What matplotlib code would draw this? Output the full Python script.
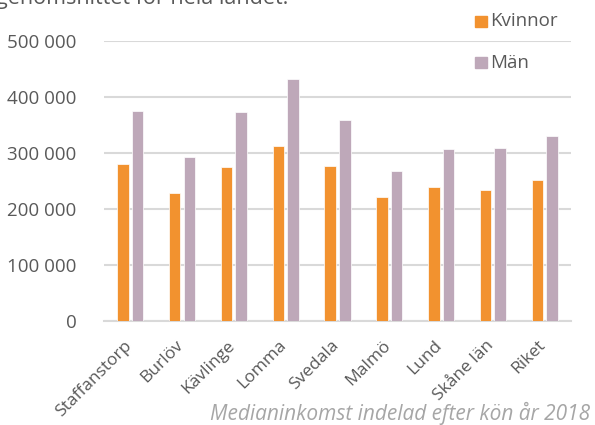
import matplotlib
matplotlib.use("Agg")
import matplotlib.pyplot as plt
import matplotlib.transforms as mtransforms
import numpy as np
from matplotlib.ticker import FuncFormatter

plt.rcParams['font.family'] = ['Open Sans', 'DejaVu Sans']

categories = ["Staffanstorp", "Burlöv", "Kävlinge", "Lomma", "Svedala",
              "Malmö", "Lund", "Skåne län", "Riket"]
kvinnor = [280000, 228000, 274500, 312000, 276500, 221000, 238000, 233500, 252000]
man = [374500, 291500, 373000, 431000, 358000, 268000, 307500, 308000, 330000]
series_names = ["Kvinnor", "Män"]
yticks = [0, 100000, 200000, 300000, 400000, 500000]
caption = "Medianinkomst indelad efter kön år 2018"
top_text = "genomsnittet för hela landet."

c_k = "#F2922F"
c_m = "#BEA8B9"
grey = "#595959"

fig = plt.figure(figsize=(5.95, 4.25), dpi=100)
ax = fig.add_axes([104.3/595, 1-320.7/425, (570.6-104.3)/595, (320.7-40.7)/425])

x = np.arange(len(categories))
w = 0.222
off = 0.141
ax.bar(x - off, kvinnor, width=w, color=c_k, edgecolor="white", linewidth=0.5, zorder=3)
ax.bar(x + off, man, width=w, color=c_m, edgecolor="white", linewidth=0.5, zorder=3)

ax.set_xlim(-0.5, len(categories) - 0.5)
ax.set_ylim(0, 500000)
ax.set_yticks(yticks)
ax.yaxis.set_major_formatter(FuncFormatter(lambda v, p: f"{int(v):,}".replace(",", " ")))
ax.grid(axis="y", color="#D9D9D9", linewidth=1.5, zorder=0)
ax.set_axisbelow(True)
for s in ["top", "right", "left"]:
    ax.spines[s].set_visible(False)
ax.spines["bottom"].set_color("#D9D9D9")
ax.spines["bottom"].set_linewidth(1.5)
ax.tick_params(axis="y", length=0, labelsize=13.5, labelcolor=grey, pad=20)
ax.tick_params(axis="x", length=0, labelsize=12.5, labelcolor=grey, pad=12)
ax.set_xticks(x)
ax.set_xticklabels(categories, rotation=45, ha="right", va="top", rotation_mode="anchor")
shift = mtransforms.ScaledTranslation(-7/100, 0, fig.dpi_scale_trans)
for lbl in ax.get_xticklabels():
    lbl.set_transform(lbl.get_transform() + shift)

# legend as manual entries
fig.patches.append(plt.Rectangle((475/595, 1-27/425), 12/595, 11/425,
                                 transform=fig.transFigure, color=c_k, figure=fig))
fig.text(490/595, 1-21.5/425, series_names[0], fontsize=13.5, color=grey, va="center")
fig.patches.append(plt.Rectangle((475/595, 1-68/425), 12/595, 11/425,
                                 transform=fig.transFigure, color=c_m, figure=fig))
fig.text(490/595, 1-62.5/425, series_names[1], fontsize=13.5, color=grey, va="center")

fig.text(-4/595, 1-4/425, top_text, fontsize=15.5, color=grey, va="baseline", ha="left")
fig.text(590/595, 1-420/425, caption, fontsize=15, color="#A6A6A6",
         style="italic", ha="right", va="baseline")

fig.savefig("out.png", dpi=100)
